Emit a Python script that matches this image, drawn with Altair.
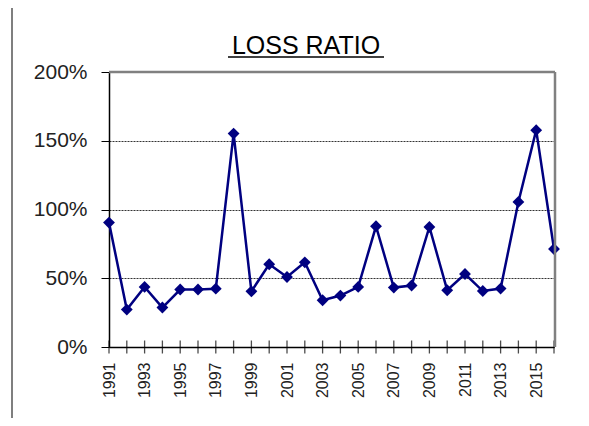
import altair as alt
import pandas as pd

years = list(range(1991, 2017))
loss_ratio = [90.5, 27.2, 43.7, 28.7, 41.8, 41.8, 42.4, 155.2, 40.5, 60.2,
              50.9, 61.6, 34.0, 37.4, 43.7, 87.8, 43.2, 44.7, 87.3, 41.3,
              53.1, 40.7, 42.5, 105.5, 157.7, 71.3]
y_ticks = [0, 0.5, 1.0, 1.5, 2.0]
title_text = "LOSS RATIO"

df = pd.DataFrame({"year": years, "ratio": [v / 100 for v in loss_ratio]})

W, H = 445, 275
NAVY = "#000080"
LABEL_FONT = "Liberation Sans Narrow, Arial Narrow, Liberation Sans, sans-serif"

x_enc = alt.X("year:Q", scale=alt.Scale(domain=[1991, 2016], nice=False, zero=False),
              axis=alt.Axis(values=years, labelExpr="datum.value % 2 == 1 ? datum.value : ''",
                            labelAngle=-90, ticks=False, labelPadding=15, grid=False,
                            labelOverlap=False, labelBound=False, labelFlush=False,
                            domainColor="black", domainWidth=1.5, labelFont=LABEL_FONT,
                            labelFontSize=16, labelColor="#222", title=None))
y_enc = alt.Y("ratio:Q", scale=alt.Scale(domain=[0, 2], nice=False),
              axis=alt.Axis(values=y_ticks, format=".0%", tickSize=8, tickColor="black",
                            labelPadding=14, domainColor="black", domainWidth=1.5,
                            labelOverlap=False, labelFlush=False,
                            grid=True, gridColor="#333", gridDash=[2, 1], gridWidth=1,
                            labelFont=LABEL_FONT, labelFontSize=21, labelColor="#222",
                            title=None))

base = alt.Chart(df)

line = base.mark_line(color=NAVY, strokeWidth=2.5).encode(x=x_enc, y=y_enc)
points = base.mark_point(shape="diamond", filled=True, size=140, color=NAVY, opacity=1).encode(
    x=x_enc, y=y_enc)
xticks = base.mark_tick(orient="vertical", size=13, thickness=1.3, color="black").encode(
    x=x_enc, y=alt.value(H))

top_border = alt.Chart(pd.DataFrame({"a": [0]})).mark_rule(color="#808080", strokeWidth=2.5).encode(
    x=alt.value(0), x2=alt.value(W + 1), y=alt.value(0))
right_border = alt.Chart(pd.DataFrame({"a": [0]})).mark_rule(color="#808080", strokeWidth=2.5).encode(
    x=alt.value(W + 1), y=alt.value(0), y2=alt.value(H))

frame_top = alt.Chart(pd.DataFrame({"a": [0]})).mark_rule(color="#555", strokeWidth=1.5).encode(
    x=alt.value(-97), x2=alt.value(600), y=alt.value(-65))
frame_left = alt.Chart(pd.DataFrame({"a": [0]})).mark_rule(color="#555", strokeWidth=1.5).encode(
    x=alt.value(-97), y=alt.value(-65), y2=alt.value(400))

title = alt.Chart(pd.DataFrame({"t": [title_text]})).mark_text(
    font="Liberation Sans, Arial, sans-serif", fontSize=25, color="black",
    align="center", baseline="alphabetic").encode(
    text="t:N", x=alt.value(197), y=alt.value(-18.5))
underline = alt.Chart(pd.DataFrame({"a": [0]})).mark_rule(color="black", strokeWidth=1.5).encode(
    x=alt.value(119), x2=alt.value(275), y=alt.value(-15))

chart = alt.layer(frame_top, frame_left, line, xticks, points, top_border, right_border,
                  title, underline).properties(
    width=W, height=H,
    autosize=alt.AutoSizeParams(type="none"),
    padding={"left": 101, "top": 64, "right": 27, "bottom": 71},
).configure_view(stroke=None).configure(background="white")

chart.save("out.html", embed_options={"renderer": "svg", "actions": False})
